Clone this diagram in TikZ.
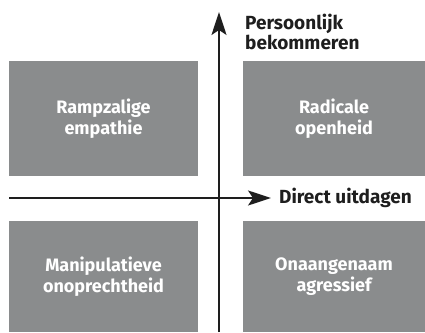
\documentclass[tikz,border=0pt]{standalone}
\usepackage{fontspec}
\setmainfont{Fira Sans}
\usetikzlibrary{arrows.meta}
\definecolor{vlakgrijs}{HTML}{8A8C8D}
\definecolor{asgrijs}{HTML}{1E1E1E}
\begin{document}
\begin{tikzpicture}[x=1pt,y=1pt,
    vlak/.style={fill=vlakgrijs, inner sep=0pt, text=white, align=center,
      font=\bfseries\fontsize{18}{21}\selectfont},
    as/.style={draw=asgrijs, line width=2pt, -{Stealth[length=23pt,width=15pt,inset=5pt]}},
    aslabel/.style={text=asgrijs, inner sep=0pt, align=left,
      font=\bfseries\fontsize{19}{20}\selectfont}]
      \useasboundingbox (0,0) rectangle (425,332);
      \node[vlak, minimum width=189pt, minimum height=115pt] (re) at (103.5,213.5) {Rampzalige\\empathie};
      \node[vlak, minimum width=182pt, minimum height=115pt] (ro) at (334,213.5) {Radicale\\openheid};
      \node[vlak, minimum width=189pt, minimum height=111pt] (mo) at (103.5,55.5) {Manipulatieve\\onoprechtheid};
      \node[vlak, minimum width=182pt, minimum height=111pt] (oa) at (334,55.5) {Onaangenaam\\agressief};
      \coordinate (yvoet) at (219,0);
      \coordinate (ytop) at (219,320);
      \coordinate (xvoet) at (9,134);
      \coordinate (xtop) at (271,134);
      \draw[as] (yvoet) -- (ytop);
      \draw[as] (xvoet) -- (xtop);
      \node[aslabel, anchor=west] (du) at (279,134) {Direct uitdagen};
      \node[aslabel, anchor=north west] (pb) at (245,318) {Persoonlijk\\bekommeren};
    \end{tikzpicture}
\end{document}
